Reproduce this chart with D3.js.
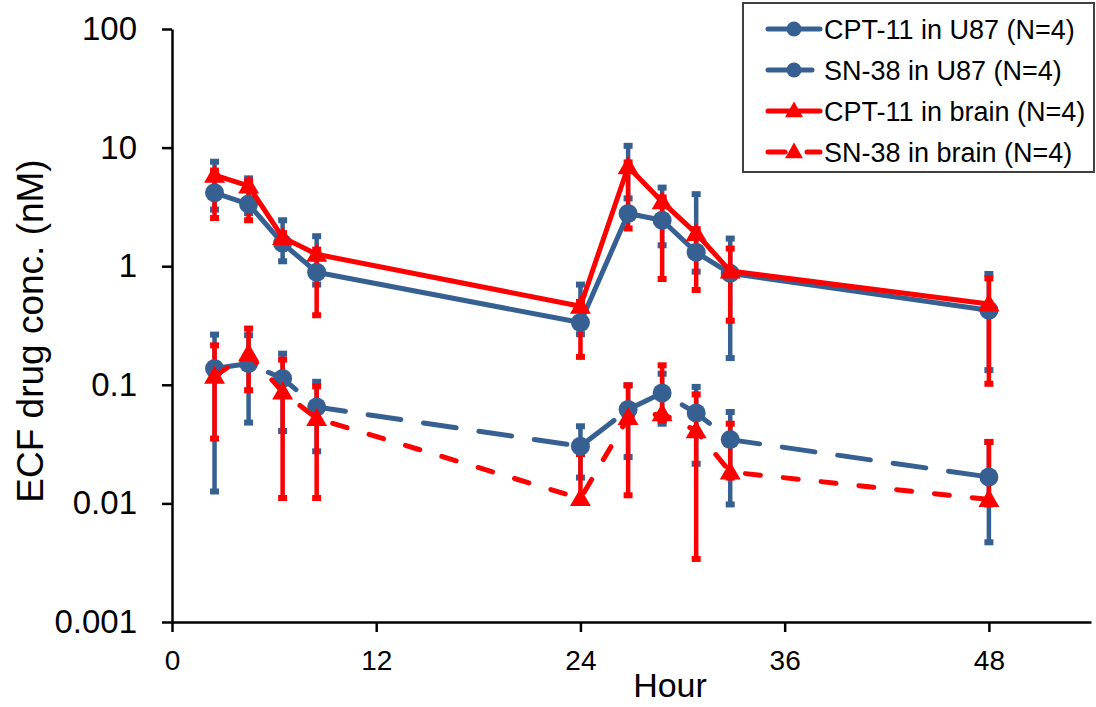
<!DOCTYPE html>
<html>
<head>
<meta charset="utf-8">
<script src="https://cdn.jsdelivr.net/npm/d3@7"></script>
<style>
  html, body { margin: 0; padding: 0; background: #fff; }
  svg { display: block; font-family: "Liberation Sans", Arial, sans-serif; }
</style>
</head>
<body>
<svg id="chart" width="1096" height="707"></svg>
<script>
// sampling times (hours)
const hours = [2.5, 4.5, 6.5, 8.5, 24, 26.8, 28.8, 30.8, 32.8, 48];

// CPT-11 in U87
const cptU87 = [4.16, 3.34, 1.56, 0.89, 0.335, 2.78, 2.44, 1.31, 0.87, 0.425];
const cptU87Hi = [7.6, 5.5, 2.44, 1.79, 0.70, 10.35, 4.6, 4.05, 1.71, 0.86];
const cptU87Lo = [3.0, 2.8, 1.10, 0.7, 0.267, 3.73, 1.5, 0.9, 0.168, 0.133];

// SN-38 in U87
const snU87 = [0.137, 0.151, 0.113, 0.065, 0.0303, 0.0618, 0.0853, 0.0578, 0.0345, 0.0167];
const snU87Hi = [0.265, 0.262, 0.183, 0.106, 0.0447, 0.099, 0.124, 0.096, 0.059, 0.0329];
const snU87Lo = [0.0126, 0.048, 0.0408, 0.0275, 0.0165, 0.0246, 0.047, 0.0216, 0.0098, 0.0047];

// CPT-11 in brain
const cptBrain = [5.86, 4.75, 1.75, 1.26, 0.46, 6.9, 3.49, 1.89, 0.91, 0.48];
const cptBrainHi = [6.4, 5.2, 1.9, 1.38, 0.5, 7.5, 3.8, 2.05, 1.41, 0.79];
const cptBrainLo = [2.55, 2.44, 1.55, 0.386, 0.172, 2.08, 0.78, 0.63, 0.347, 0.102];

// SN-38 in brain
const snBrain = [0.118, 0.183, 0.087, 0.052, 0.011, 0.053, 0.057, 0.041, 0.0184, 0.0108];
const snBrainHi = [0.215, 0.298, 0.163, 0.097, 0.026, 0.099, 0.146, 0.083, 0.047, 0.033];
const snBrainLo = [0.0352, 0.09, 0.0111, 0.0111, 0.0105, 0.0117, 0.05, 0.0034, 0.0165, 0.0098];

const xTicks = [0, 12, 24, 36, 48];
const yTicks = [0.001, 0.01, 0.1, 1, 10, 100];
const yTickLabels = ["0.001", "0.01", "0.1", "1", "10", "100"];

const BLUE = "#376092";
const RED = "#ff0000";

const series = [
    { name: "CPT-11 in U87 (N=4)", values: cptU87, hi: cptU87Hi, lo: cptU87Lo, color: BLUE, marker: "circle", dash: null, legendDash: null },
    { name: "SN-38 in U87 (N=4)", values: snU87, hi: snU87Hi, lo: snU87Lo, color: BLUE, marker: "circle", dash: "33 23", legendDash: "44 200" },
    { name: "CPT-11 in brain (N=4)", values: cptBrain, hi: cptBrainHi, lo: cptBrainLo, color: RED, marker: "triangle", dash: null, legendDash: null },
    { name: "SN-38 in brain (N=4)", values: snBrain, hi: snBrainHi, lo: snBrainLo, color: RED, marker: "triangle", dash: "15 23", legendDash: "17 22 13 200" },
];

const svg = d3.select("#chart");
const width = 1096, height = 707;
const margin = { top: 29, right: 5, bottom: 85, left: 172 };

const x = d3.scaleLinear().domain([0, 54]).range([margin.left, width - margin.right]);
const y = d3.scaleLog().domain([0.001, 100]).range([height - margin.bottom, margin.top]);

// axes
const xAxis = svg.append("g")
    .attr("transform", `translate(0,${y(0.001)})`)
    .call(d3.axisBottom(x).tickValues(xTicks).tickSize(10).tickSizeOuter(0).tickPadding(18));
xAxis.select(".domain").attr("stroke", "#000").attr("stroke-width", 2.5);
xAxis.selectAll(".tick line").attr("stroke", "#000").attr("stroke-width", 2.5);
xAxis.selectAll(".tick text").attr("font-size", 28).attr("fill", "#000")
    .attr("font-family", "Liberation Sans, Arial, sans-serif");

const yAxis = svg.append("g")
    .attr("transform", `translate(${x(0)},0)`)
    .call(d3.axisLeft(y).tickValues(yTicks).tickFormat((d, i) => yTickLabels[i]).tickSize(10).tickSizeOuter(0).tickPadding(25));
yAxis.select(".domain").attr("stroke", "#000").attr("stroke-width", 2.5);
yAxis.selectAll(".tick line").attr("stroke", "#000").attr("stroke-width", 2.5);
yAxis.selectAll(".tick text").attr("font-size", 33).attr("fill", "#000")
    .attr("font-family", "Liberation Sans, Arial, sans-serif");

// axis titles
svg.append("text")
    .attr("x", 670).attr("y", 697)
    .attr("text-anchor", "middle")
    .attr("font-size", 34)
    .text("Hour");

svg.append("text")
    .attr("transform", `translate(43,331) rotate(-90)`)
    .attr("text-anchor", "middle")
    .attr("font-size", 37)
    .text("ECF drug conc. (nM)");

// error bars (drawn first, under lines & markers)
const capW = 4.5;
series.forEach(s => {
    const g = svg.append("g").attr("stroke", s.color).attr("stroke-width", 4.5);
    hours.forEach((h, i) => {
        const cx = x(h);
        g.append("line").attr("x1", cx).attr("x2", cx).attr("y1", y(s.hi[i])).attr("y2", y(s.lo[i]));
        [s.hi[i], s.lo[i]].forEach(v => {
            g.append("line").attr("x1", cx - capW).attr("x2", cx + capW)
                .attr("y1", y(v)).attr("y2", y(v)).attr("stroke-width", 6);
        });
    });
});

// lines and markers
const line = d3.line().x((d, i) => x(hours[i])).y(d => y(d));
const tri = d3.symbol().type(d3.symbolTriangle).size(190);

series.forEach(s => {
    svg.append("path")
        .attr("d", line(s.values))
        .attr("fill", "none")
        .attr("stroke", s.color)
        .attr("stroke-width", 5)
        .attr("stroke-linecap", "round")
        .attr("stroke-linejoin", "round")
        .attr("stroke-dasharray", s.dash);

    const m = svg.append("g").attr("fill", s.color);
    s.values.forEach((v, i) => {
        if (s.marker === "circle") {
            m.append("circle").attr("cx", x(hours[i])).attr("cy", y(v)).attr("r", 9.5);
        } else {
            m.append("path").attr("d", tri()).attr("transform", `translate(${x(hours[i])},${y(v) + 1.5})`);
        }
    });
});

// legend
const legend = svg.append("g");
legend.append("rect")
    .attr("x", 743).attr("y", 3).attr("width", 351).attr("height", 169)
    .attr("fill", "#fff").attr("stroke", "#404040").attr("stroke-width", 2);

const legTri = d3.symbol().type(d3.symbolTriangle).size(140);
series.forEach((s, i) => {
    const ly = 29 + i * 41;
    legend.append("line")
        .attr("x1", 768).attr("x2", 820).attr("y1", ly).attr("y2", ly)
        .attr("stroke", s.color).attr("stroke-width", 5)
        .attr("stroke-linecap", "round")
        .attr("stroke-dasharray", s.legendDash);
    if (s.marker === "circle") {
        legend.append("circle").attr("cx", 794).attr("cy", ly).attr("r", 7.5).attr("fill", s.color);
    } else {
        legend.append("path").attr("d", legTri()).attr("fill", s.color)
            .attr("transform", `translate(794,${ly + 1})`);
    }
    legend.append("text")
        .attr("x", 824).attr("y", ly + 10)
        .attr("font-size", 27)
        .text(s.name);
});
</script>
</body>
</html>
